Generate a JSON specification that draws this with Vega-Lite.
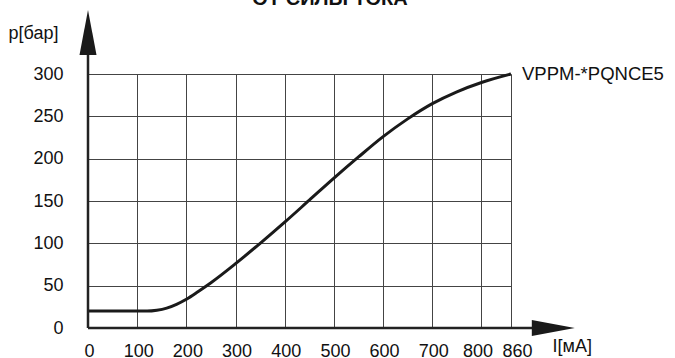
{
  "$schema": "https://vega.github.io/schema/vega-lite/v6.json",
  "width": 423,
  "height": 254,
  "autosize": {"type": "none"},
  "padding": {"left": 88, "top": 74, "right": 164, "bottom": 30},
  "background": "white",
  "config": {
    "view": {"stroke": null},
    "font": "Liberation Sans",
    "axis": {"labelFont": "Liberation Sans", "titleFont": "Liberation Sans"}
  },
  "datasets": {
    "curve": [
      {"I": 0, "p": 20},
      {"I": 60, "p": 20},
      {"I": 120, "p": 20},
      {"I": 140, "p": 21},
      {"I": 160, "p": 23.5},
      {"I": 180, "p": 28},
      {"I": 200, "p": 34},
      {"I": 225, "p": 43.5},
      {"I": 250, "p": 53.5},
      {"I": 300, "p": 76},
      {"I": 350, "p": 100},
      {"I": 400, "p": 125},
      {"I": 450, "p": 151},
      {"I": 500, "p": 177},
      {"I": 550, "p": 202},
      {"I": 600, "p": 226},
      {"I": 650, "p": 247},
      {"I": 700, "p": 265},
      {"I": 750, "p": 279},
      {"I": 800, "p": 290},
      {"I": 860, "p": 300}
    ],
    "one": [{"series": "VPPM-*PQNCE5", "title": "ОТ СИЛЫ ТОКА"}]
  },
  "layer": [
    {
      "data": {"name": "curve"},
      "mark": {"type": "line", "interpolate": "monotone", "strokeWidth": 3, "color": "#1a1a1a"},
      "encoding": {
        "x": {
          "field": "I", "type": "quantitative",
          "scale": {"domain": [0, 860], "nice": false, "zero": false},
          "axis": {
            "values": [0, 100, 200, 300, 400, 500, 600, 700, 800, 860],
            "grid": true, "gridColor": "#444", "gridWidth": 1, "gridOpacity": 1,
            "domain": false, "ticks": false, "tickSize": 0,
            "labelFontSize": 18, "labelColor": "#111", "labelPadding": 14,
            "labelBaseline": "top", "labelOverlap": false, "labelFlush": false,
            "labelOffset": {"condition": [{"test": "datum.value == 800", "value": -4}, {"test": "datum.value == 860", "value": 6}], "value": 1},
            "title": "I[мА]", "titleFontSize": 18, "titleFontWeight": "normal", "titleColor": "#111",
            "titleAlign": "left", "titleBaseline": "middle", "titleX": 464, "titleY": 18
          }
        },
        "y": {
          "field": "p", "type": "quantitative",
          "scale": {"domain": [0, 300], "nice": false},
          "axis": {
            "values": [0, 50, 100, 150, 200, 250, 300],
            "grid": true, "gridColor": "#444", "gridWidth": 1, "gridOpacity": 1,
            "domain": false, "ticks": false, "tickSize": 0,
            "labelFontSize": 18, "labelColor": "#111", "labelPadding": 25,
            "title": "p[бар]", "titleAngle": 0, "titleFontSize": 18, "titleFontWeight": "normal", "titleColor": "#111",
            "titleAlign": "left", "titleBaseline": "middle", "titleX": -80, "titleY": -41
          }
        }
      }
    },
    {
      "data": {"name": "one"},
      "mark": {"type": "rule", "strokeWidth": 2.5, "color": "#222"},
      "encoding": {"x": {"datum": 0}, "y": {"datum": 0}, "y2": {"datum": 345}}
    },
    {
      "data": {"name": "one"},
      "mark": {"type": "rule", "strokeWidth": 2.5, "color": "#222"},
      "encoding": {"x": {"datum": 0}, "x2": {"datum": 940}, "y": {"datum": 0}}
    },
    {
      "data": {"name": "one"},
      "mark": {"type": "point", "filled": true, "opacity": 1, "color": "#1a1a1a", "size": 2025, "shape": "M0,-1L0.378,1L-0.378,1Z"},
      "encoding": {"x": {"datum": 0}, "y": {"datum": 349}}
    },
    {
      "data": {"name": "one"},
      "mark": {"type": "point", "filled": true, "opacity": 1, "color": "#1a1a1a", "size": 1849, "shape": "M1,0L-1,0.372L-1,-0.372Z"},
      "encoding": {"x": {"datum": 946}, "y": {"datum": 0}}
    },
    {
      "data": {"name": "one"},
      "mark": {"type": "text", "align": "left", "baseline": "middle", "dx": 11, "fontSize": 18.5, "fontWeight": "normal", "color": "#111", "font": "Liberation Sans"},
      "encoding": {"x": {"datum": 860}, "y": {"datum": 300}, "text": {"field": "series"}}
    },
    {
      "data": {"name": "one"},
      "mark": {"type": "text", "align": "center", "baseline": "alphabetic", "fontSize": 20, "fontWeight": "bold", "color": "#111", "font": "Liberation Sans"},
      "encoding": {"x": {"datum": 492}, "y": {"datum": 381}, "text": {"field": "title"}}
    }
  ]
}
